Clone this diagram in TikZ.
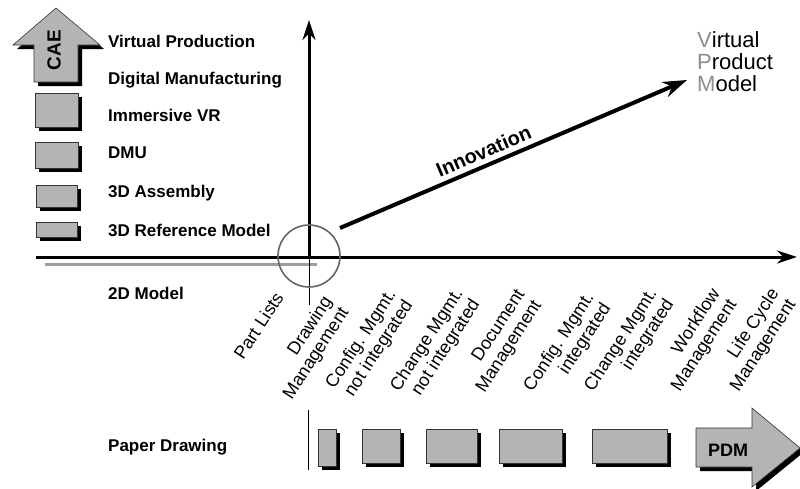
\documentclass[tikz,border=0pt]{standalone}
\usepackage{fontspec}
\setmainfont{Liberation Sans}
\usetikzlibrary{arrows.meta,shadows}
\definecolor{boxgray}{RGB}{180,180,180}
\tikzset{
  blk/.style={draw=black!80, fill=boxgray, line width=0.6pt,
    drop shadow={shadow xshift=4pt, shadow yshift=-4pt, fill=black, opacity=1}},
  lbl/.style={anchor=base west, inner sep=0pt, font=\fontsize{17}{20}\selectfont\bfseries},
  phase/.style={anchor=east, rotate=57, align=right, inner sep=0pt, font=\fontsize{18}{20}\selectfont},
  axis/.style={line width=3pt, -{Stealth[length=20pt, width=13pt]}}
}
\begin{document}
\begin{tikzpicture}[x=1pt, y=-1pt]
  \useasboundingbox (0,0) rectangle (800,488);
  % Left column
  \filldraw[blk] (56,8) -- (100,45) -- (78,45) -- (78,82) -- (34,82) -- (34,45) -- (13,45) -- cycle;
  \node (cae) [rotate=90, inner sep=0pt, font=\fontsize{19}{20}\selectfont\bfseries] at (54,50) {CAE};
  \node (vr) [blk, minimum width=43pt, minimum height=34pt] at (56.5,110) {};
  \node (dmu) [blk, minimum width=43pt, minimum height=26pt] at (56.5,155) {};
  \node (asm) [blk, minimum width=41pt, minimum height=22pt] at (56.5,196) {};
  \node (ref) [blk, minimum width=41pt, minimum height=15pt] at (56.5,229.5) {};
  \node (l1) [lbl] at (108,47) {Virtual Production};
  \node (l2) [lbl] at (108,84) {Digital Manufacturing};
  \node (l3) [lbl] at (108,121) {Immersive VR};
  \node (l4) [lbl] at (108,158) {DMU};
  \node (l5) [lbl] at (108,197) {3D Assembly};
  \node (l6) [lbl] at (108,236) {3D Reference Model};
  \node (l7) [lbl] at (108,299) {2D Model};
  \node (l8) [lbl] at (108,451) {Paper Drawing};
  % Axes
  \coordinate (o) at (309,257);
  \coordinate (xs) at (36,257);
  \coordinate (xe) at (797,257);
  \coordinate (yt) at (309,20);
  \coordinate (yb) at (309,305);
  \coordinate (gs) at (45,264);
  \coordinate (ge) at (317,264);
  \draw[line width=3pt, black!38] (gs) -- (ge);
  \draw[axis] (xs) -- (xe);
  \draw[axis] (o) -- (yt);
  \draw[line width=0.8pt] (o) -- (yb);
  \node (ring) [circle, draw=black!60, line width=1.6pt, minimum size=62pt] at (309,256) {};
  % Innovation
  \node (vpm) [anchor=north west, align=left, inner sep=0pt, font=\fontsize{22}{22}\selectfont] at (697,31)
    {\textcolor{black!45}{V}irtual\\\textcolor{black!45}{P}roduct\\\textcolor{black!45}{M}odel};
  \coordinate (is) at (340,228);
  \coordinate (ie) at (687,80);
  \draw[line width=4pt, -{Stealth[length=24pt, width=16pt]}] (is) -- (ie)
    node[pos=0.43, sloped, above=5pt, inner sep=0pt, font=\fontsize{20}{20}\selectfont\bfseries] (inno) {Innovation};
  % Phases
  \node (ph1) [phase] at (279,294) {Part Lists};
  \node (ph2) [phase] at (337,304) {Drawing\\Management};
  \node (ph3) [phase] at (401,297) {Config. Mgmt.\\not integrated};
  \node (ph4) [phase] at (468,296) {Change Mgmt.\\not integrated};
  \node (ph5) [phase] at (530,297) {Document\\Management};
  \node (ph6) [phase] at (599,300) {Config. Mgmt.\\integrated};
  \node (ph7) [phase] at (662,296) {Change Mgmt.\\integrated};
  \node (ph8) [phase] at (725,296) {Workflow\\Management};
  \node (ph9) [phase] at (784,296) {Life Cycle\\Management};
  % Bottom row
  \coordinate (ss) at (308,410);
  \coordinate (se) at (308,470);
  \draw[line width=0.8pt] (ss) -- (se);
  \node (p1) [blk, minimum width=18pt, minimum height=37pt] at (327,447.5) {};
  \node (p2) [blk, minimum width=38pt, minimum height=34pt] at (381,446) {};
  \node (p3) [blk, minimum width=51pt, minimum height=34pt] at (451.5,446) {};
  \node (p4) [blk, minimum width=63pt, minimum height=34pt] at (530.5,446) {};
  \node (p5) [blk, minimum width=75pt, minimum height=34pt] at (629.5,446) {};
  \filldraw[blk] (696,428) -- (752,428) -- (752,408) -- (800,448) -- (752,487) -- (752,467) -- (696,467) -- cycle;
  \node (pdm) [inner sep=0pt, font=\fontsize{18}{20}\selectfont\bfseries] at (728,450) {PDM};
\end{tikzpicture}
\end{document}
